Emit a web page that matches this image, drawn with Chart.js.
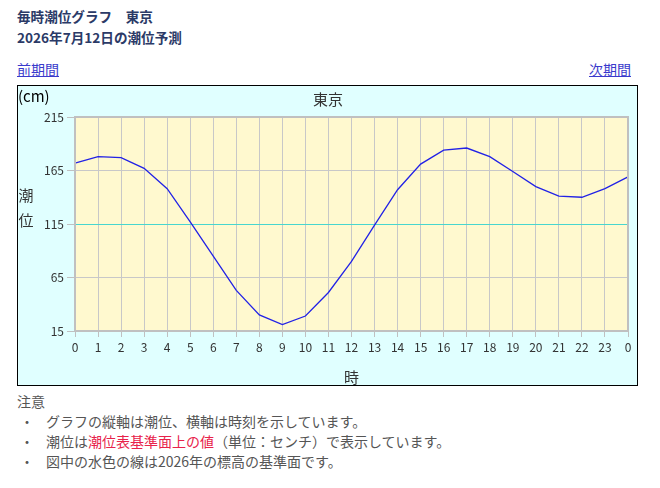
<!DOCTYPE html>
<html lang="ja">
<head>
<meta charset="utf-8">
<script src="https://cdn.jsdelivr.net/npm/chart.js@4/dist/chart.umd.min.js"></script>
<style>
  body { margin: 0; background: #fff; font-family: "Noto Sans CJK JP", "Noto Sans", sans-serif; }
  .head { position: absolute; left: 17px; top: 6px; color: #2b3a67; font-weight: bold; font-size: 13.6px; line-height: 21px; }
  .link { position: absolute; top: 59px; color: #3a3acc; font-size: 14px; text-decoration: underline; }
  #box { position: absolute; left: 17px; top: 85px; width: 619px; height: 299px; border: 1px solid #000; background: #e0ffff; }
  .notes { position: absolute; left: 17px; top: 391px; color: #555; font-size: 14px; }
  .notes div { height: 20px; line-height: 20px; }
  .notes span.b { display: inline-block; width: 29px; padding-left: 3px; box-sizing: border-box; }
  .red { color: #e8224a; }
</style>
</head>
<body>
<div class="head">毎時潮位グラフ　東京<br>2026年7月12日の潮位予測</div>
<a class="link" style="left:17px">前期間</a>
<a class="link" style="right:29px">次期間</a>
<div id="box"><canvas id="tide"></canvas></div>
<div class="notes">
  <div>注意</div>
  <div><span class="b">・</span>グラフの縦軸は潮位、横軸は時刻を示しています。</div>
  <div><span class="b">・</span>潮位は<span class="red">潮位表基準面上の値</span>（単位：センチ）で表示しています。</div>
  <div><span class="b">・</span>図中の水色の線は2026年の標高の基準面です。</div>
</div>
<script>
const hours = ["0", "1", "2", "3", "4", "5", "6", "7", "8", "9", "10", "11", "12",
  "13", "14", "15", "16", "17", "18", "19", "20", "21", "22", "23", "0"];
const tideLevel = [172, 178, 177, 167, 148, 117, 85, 53, 30, 21, 29, 51, 80,
  114, 147, 171, 184, 186, 178, 164, 150, 141, 140, 148, 159];
const yTicks = [15, 65, 115, 165, 215];
const datumLevel = 115;

const panelPlugin = {
  id: "panel",
  beforeDraw(chart) {
    const { ctx, chartArea: a } = chart;
    ctx.save();
    ctx.fillStyle = "#fff9cf";
    ctx.fillRect(a.left, a.top, a.right - a.left, a.bottom - a.top);
    ctx.restore();
  },
  afterDraw(chart) {
    const { ctx, chartArea: a } = chart;
    ctx.save();
    ctx.strokeStyle = "#c0c0c0";
    ctx.lineWidth = 2;
    ctx.strokeRect(a.left, a.top, a.right - a.left, a.bottom - a.top);
    ctx.font = '15px "Noto Sans CJK JP"';
    ctx.fillStyle = "#000";
    ctx.textBaseline = "middle";
    ctx.textAlign = "left";
    ctx.fillText("(cm)", 0, 10);
    ctx.fillStyle = "#333";
    ctx.textAlign = "center";
    ctx.fillText("東京", 310, 13);
    ctx.fillText("潮", 8, 109);
    ctx.fillText("位", 8, 134);
    ctx.fillText("時", (a.left + a.right) / 2, 291);
    ctx.restore();
  }
};

new Chart(document.getElementById("tide"), {
  type: "line",
  data: {
    labels: hours,
    datasets: [{
      label: "潮位",
      data: tideLevel,
      borderColor: "#2222e6",
      borderWidth: 1.3,
      pointRadius: 0,
      tension: 0,
      fill: false
    }]
  },
  options: {
    responsive: true,
    maintainAspectRatio: false,
    animation: false,
    layout: { padding: { top: 31, right: 9, left: 0, bottom: 0 } },
    plugins: {
      legend: { display: false },
      tooltip: { enabled: false }
    },
    scales: {
      x: {
        grid: { color: "#c8c8c8", tickColor: "#c0c0c0", tickLength: 6 },
        border: { color: "#c0c0c0", width: 2 },
        ticks: { color: "#333", font: { size: 12, family: "Noto Sans CJK JP" }, padding: 3, maxRotation: 0, autoSkip: false },
        afterFit(scale) { scale.height = 54; }
      },
      y: {
        min: 15,
        max: 215,
        afterBuildTicks(scale) { scale.ticks = yTicks.map(v => ({ value: v })); },
        grid: {
          color: c => (c.tick && c.tick.value === datumLevel ? "#48d6cf" : "#c8c8c8"),
          tickColor: "#c0c0c0",
          tickLength: 8
        },
        border: { color: "#c0c0c0", width: 2 },
        ticks: { color: "#333", font: { size: 12, family: "Noto Sans CJK JP" }, padding: 3 },
        afterFit(scale) { scale.width = 57; }
      }
    }
  },
  plugins: [panelPlugin]
});
</script>
</body>
</html>
